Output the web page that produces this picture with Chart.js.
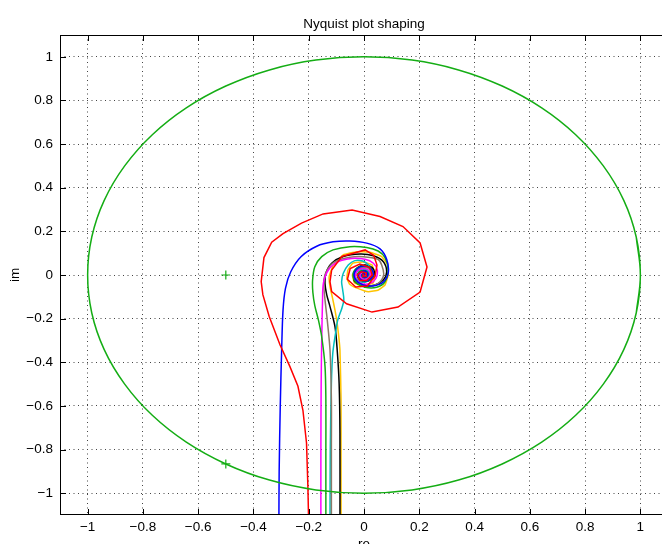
<!DOCTYPE html>
<html>
<head>
<meta charset="utf-8">
<script src="https://cdn.jsdelivr.net/npm/chart.js@4.4.1/dist/chart.umd.min.js"></script>
<style>
  html, body { margin: 0; padding: 0; background: #fff; overflow: hidden; }
  #wrap { position: absolute; left: 0; top: 0; width: 700px; height: 544px; }
</style>
</head>
<body>
<div id="wrap"><canvas id="nyq" width="700" height="544"></canvas></div>
<script>
// labels
const titleText = 'Nyquist plot shaping';
const xTitle = 're';
const yTitle = 'im';
const xTicks = [-1, -0.8, -0.6, -0.4, -0.2, 0, 0.2, 0.4, 0.6, 0.8, 1];
const yTicks = [-1, -0.8, -0.6, -0.4, -0.2, 0, 0.2, 0.4, 0.6, 0.8, 1];

// unit circle, every 10 deg (first/last overlap a little)
const circle = [[0.985,0.174],[1,0],[0.985,-0.174],[0.94,-0.342],[0.866,-0.5],[0.766,-0.643],[0.643,-0.766],
  [0.5,-0.866],[0.342,-0.94],[0.174,-0.985],[0,-1],[-0.174,-0.985],[-0.342,-0.94],[-0.5,-0.866],
  [-0.643,-0.766],[-0.766,-0.643],[-0.866,-0.5],[-0.94,-0.342],[-0.985,-0.174],[-1,0],[-0.985,0.174],
  [-0.94,0.342],[-0.866,0.5],[-0.766,0.643],[-0.643,0.766],[-0.5,0.866],[-0.342,0.94],[-0.174,0.985],
  [0,1],[0.174,0.985],[0.342,0.94],[0.5,0.866],[0.643,0.766],[0.766,0.643],[0.866,0.5],[0.94,0.342],
  [0.985,0.174],[1,0],[0.985,-0.174]];
const marks = [[-0.5,0],[-0.5,-0.866]];

// nyquist curves [re, im], low frequency first
const red = [[-0.200,-1.15],[-0.203,-0.97],[-0.208,-0.77],[-0.221,-0.62],[-0.239,-0.51],[-0.268,-0.42],
  [-0.304,-0.32],[-0.343,-0.19],[-0.366,-0.09],[-0.372,-0.03],[-0.362,0.08],[-0.334,0.15],[-0.293,0.19],
  [-0.226,0.238],[-0.148,0.28],[-0.043,0.298],[0.058,0.268],[0.141,0.222],[0.203,0.147],[0.228,0.037],
  [0.203,-0.078],[0.123,-0.147],[0.029,-0.17],[-0.063,-0.132],[-0.117,-0.076],[-0.123,-0.031],
  [-0.117,0.023],[-0.08,0.085],[0.004,0.115],[0.035,0.09],[0.047,0.046],[0.04,-0.005],[0.012,-0.05],
  [-0.03,-0.055],[-0.06,-0.02],[-0.05,0.03],[-0.015,0.05],[0.02,0.035],[0.03,0.0],[0.01,-0.025],
  [-0.015,-0.025],[-0.025,0.0],[-0.01,0.015],[0.008,0.01],[0.008,-0.006],[-0.004,-0.008],[-0.003,0.003],[0,0]];
const blue = [[-0.308,-1.15],[-0.307,-0.9],[-0.303,-0.6],[-0.298,-0.344],[-0.293,-0.161],[-0.284,-0.06],
  [-0.265,0.015],[-0.228,0.084],[-0.171,0.132],[-0.112,0.152],[-0.051,0.156],[0.01,0.146],[0.058,0.12],
  [0.082,0.072],[0.088,0.012],[0.07,-0.032],[0.033,-0.05],[-0.005,-0.045],[-0.03,-0.022],[-0.035,0.01],
  [-0.018,0.035],[0.01,0.04],[0.03,0.022],[0.032,-0.005],[0.015,-0.025],[-0.008,-0.024],[-0.02,-0.006],
  [-0.014,0.012],[0.002,0.018],[0.013,0.008],[0.011,-0.006],[0.0,-0.011],[-0.007,-0.002],[-0.003,0.005],
  [0.003,0.004],[0,0]];
const green = [[-0.138,-1.15],[-0.138,-0.8],[-0.138,-0.573],[-0.141,-0.42],[-0.153,-0.283],[-0.165,-0.206],
  [-0.178,-0.14],[-0.185,-0.08],[-0.186,-0.023],[-0.178,0.038],[-0.153,0.084],[-0.112,0.115],[-0.051,0.13],
  [0.01,0.126],[0.051,0.11],[0.076,0.08],[0.087,0.025],[0.076,-0.031],[0.046,-0.056],[0.004,-0.056],
  [-0.028,-0.035],[-0.04,0.0],[-0.028,0.03],[0.0,0.042],[0.026,0.03],[0.034,0.0],[0.02,-0.024],
  [-0.005,-0.028],[-0.022,-0.01],[-0.018,0.012],[0.0,0.02],[0.014,0.01],[0.012,-0.007],[0.0,-0.012],
  [-0.008,-0.002],[-0.003,0.006],[0.003,0.003],[0,0]];
const magenta = [[-0.156,-1.15],[-0.156,-0.8],[-0.155,-0.5],[-0.153,-0.3],[-0.15,-0.115],[-0.147,-0.038],
  [-0.129,0.023],[-0.093,0.061],[-0.045,0.076],[0.004,0.072],[0.034,0.054],[0.048,0.023],[0.043,-0.015],
  [0.022,-0.038],[-0.008,-0.04],[-0.028,-0.02],[-0.03,0.008],[-0.015,0.026],[0.008,0.028],[0.022,0.012],
  [0.02,-0.008],[0.005,-0.02],[-0.01,-0.014],[-0.014,0.002],[-0.005,0.012],[0.006,0.009],[0.007,-0.003],
  [0,-0.006],[-0.003,0],[0,0]];
const brown = [[-0.118,-1.15],[-0.118,-0.8],[-0.118,-0.573],[-0.123,-0.344],[-0.133,-0.206],[-0.141,-0.115],
  [-0.145,-0.06],[-0.145,-0.02],[-0.133,0.023],[-0.105,0.061],[-0.051,0.081],[-0.003,0.084],[0.05,0.072],
  [0.064,0.046],[0.071,0.0],[0.052,-0.038],[0.015,-0.05],[-0.02,-0.038],[-0.035,-0.008],[-0.025,0.022],
  [0.002,0.035],[0.025,0.022],[0.028,-0.005],[0.012,-0.022],[-0.01,-0.02],[-0.018,-0.002],[-0.008,0.013],
  [0.008,0.012],[0.01,-0.003],[0.0,-0.009],[-0.005,0],[0,0]];
const cyan = [[-0.123,-1.15],[-0.122,-0.8],[-0.118,-0.5],[-0.113,-0.36],[-0.103,-0.267],[-0.095,-0.206],
  [-0.08,-0.152],[-0.073,-0.115],[-0.077,-0.069],[-0.081,-0.031],[-0.075,0.008],[-0.057,0.046],
  [-0.033,0.066],[-0.005,0.064],[0.016,0.046],[0.028,0.018],[0.026,-0.012],[0.01,-0.03],[-0.012,-0.032],
  [-0.028,-0.016],[-0.03,0.006],[-0.016,0.024],[0.004,0.026],[0.017,0.012],[0.016,-0.006],[0.004,-0.016],
  [-0.009,-0.01],[-0.01,0.004],[0,0.009],[0.006,0.002],[0.002,-0.004],[0,0]];
const black = [[-0.087,-1.15],[-0.087,-0.725],[-0.09,-0.497],[-0.097,-0.344],[-0.105,-0.237],[-0.123,-0.145],
  [-0.135,-0.09],[-0.141,-0.04],[-0.138,0.008],[-0.117,0.054],[-0.075,0.085],[-0.014,0.096],[0.034,0.088],
  [0.07,0.061],[0.082,0.015],[0.07,-0.023],[0.04,-0.046],[0.004,-0.05],[-0.033,-0.031],[-0.036,0.0],
  [-0.026,0.031],[0.004,0.046],[0.03,0.034],[0.038,0.008],[0.026,-0.02],[0.0,-0.03],[-0.02,-0.016],
  [-0.022,0.006],[-0.008,0.02],[0.01,0.018],[0.018,0.002],[0.01,-0.012],[-0.004,-0.013],[-0.012,-0.002],
  [-0.006,0.008],[0.004,0.007],[0.005,-0.002],[0,-0.004],[-0.002,0],[0,0]];
const yellow = [[-0.083,-1.15],[-0.083,-0.8],[-0.083,-0.573],[-0.087,-0.344],[-0.097,-0.222],[-0.105,-0.161],
  [-0.114,-0.105],[-0.123,-0.054],[-0.126,-0.008],[-0.111,0.046],[-0.075,0.092],[-0.026,0.107],[0.022,0.104],
  [0.064,0.084],[0.085,0.046],[0.088,0.0],[0.076,-0.046],[0.052,-0.069],[0.016,-0.077],[-0.025,-0.06],
  [-0.052,-0.042],[-0.062,-0.014],[-0.058,0.023],[-0.04,0.055],[-0.004,0.06],[0.029,0.046],[0.04,0.0],
  [0.033,-0.037],[-0.004,-0.052],[-0.035,-0.035],[-0.042,0.0],[-0.025,0.027],[0.0,0.032],[0.02,0.016],
  [0.022,-0.01],[0.002,-0.022],[-0.015,-0.008],[-0.01,0.01],[0.005,0.01],[0.007,-0.003],[0,-0.005],[0,0]];

const FONT = '"Liberation Sans", Arial, Helvetica, sans-serif';
const pts = arr => arr.map(p => ({x: p[0], y: p[1]}));
const fmt = v => (v < 0 ? '\u2212' + Math.abs(v) : String(v));

function curve(data, color, tension) {
  return {
    data: pts(data),
    showLine: true,
    borderColor: color,
    borderWidth: 1.5,
    pointRadius: 0,
    tension: tension,
    fill: false,
    clip: 0
  };
}

// matlab style box, inward ticks and the texts
const frame = {
  id: 'frame',
  afterDraw(chart) {
    const {ctx, chartArea: a, scales} = chart;
    ctx.save();
    ctx.setLineDash([]);
    ctx.strokeStyle = '#000';
    ctx.lineWidth = 1;
    ctx.strokeRect(a.left + 0.5, a.top + 0.5, a.right - a.left - 1, a.bottom - a.top - 1);
    ctx.beginPath();
    xTicks.forEach(v => {
      const p = Math.round(scales.x.getPixelForValue(v)) + 0.5;
      ctx.moveTo(p, a.bottom); ctx.lineTo(p, a.bottom - 6);
      ctx.moveTo(p, a.top); ctx.lineTo(p, a.top + 6);
    });
    yTicks.forEach(v => {
      const p = Math.round(scales.y.getPixelForValue(v)) + 0.5;
      ctx.moveTo(a.left, p); ctx.lineTo(a.left + 6, p);
      ctx.moveTo(a.right, p); ctx.lineTo(a.right - 6, p);
    });
    ctx.stroke();

    ctx.fillStyle = '#000';
    ctx.font = '13.5px ' + FONT;
    ctx.textAlign = 'center';
    ctx.textBaseline = 'alphabetic';
    const cx = (a.left + a.right) / 2;
    ctx.fillText(titleText, cx, 27.5);
    ctx.fillText(xTitle, cx, 548);
    ctx.translate(15, (a.top + a.bottom) / 2);
    ctx.rotate(-Math.PI / 2);
    ctx.textBaseline = 'middle';
    ctx.fillText(yTitle, 0, 0);
    ctx.restore();
  }
};

const axisCommon = {
  type: 'linear',
  min: -1.1,
  max: 1.1,
  grid: { color: '#444', lineWidth: 1, drawTicks: false },
  border: { display: false, dash: [1, 3.5] }
};

new Chart(document.getElementById('nyq'), {
  type: 'scatter',
  data: {
    datasets: [
      curve(circle, '#14ad14', 0.4),
      curve(red, '#ff0000', 0),
      curve(blue, '#0000ff', 0.3),
      curve(green, '#14ad14', 0.3),
      curve(magenta, '#ff00ff', 0.3),
      curve(brown, '#8c7866', 0.3),
      curve(cyan, '#00bfbf', 0.3),
      curve(black, '#000000', 0.3),
      curve(yellow, '#ffc400', 0.1),
      {
        data: pts(marks),
        showLine: false,
        pointStyle: 'cross',
        pointRadius: 4.5,
        borderColor: '#14ad14',
        borderWidth: 1.2,
        clip: 0
      }
    ]
  },
  options: {
    responsive: false,
    animation: false,
    devicePixelRatio: 1,
    layout: { padding: { top: 35, right: 32, left: 0, bottom: 0 } },
    plugins: { legend: { display: false }, title: { display: false }, tooltip: { enabled: false } },
    scales: {
      x: Object.assign({}, axisCommon, {
        position: 'bottom',
        afterBuildTicks: s => { s.ticks = xTicks.map(v => ({value: v})); },
        afterFit: s => { s.height = 29; },
        ticks: { color: '#000', padding: 4, maxRotation: 0, autoSkip: false,
          font: { family: FONT, size: 13.5 }, callback: v => fmt(v) }
      }),
      y: Object.assign({}, axisCommon, {
        position: 'left',
        afterBuildTicks: s => { s.ticks = yTicks.map(v => ({value: v})); },
        afterFit: s => { s.width = 60; },
        ticks: { color: '#000', padding: 7, autoSkip: false,
          font: { family: FONT, size: 13.5 }, callback: v => fmt(v) }
      })
    }
  },
  plugins: [frame]
});
</script>
</body>
</html>
